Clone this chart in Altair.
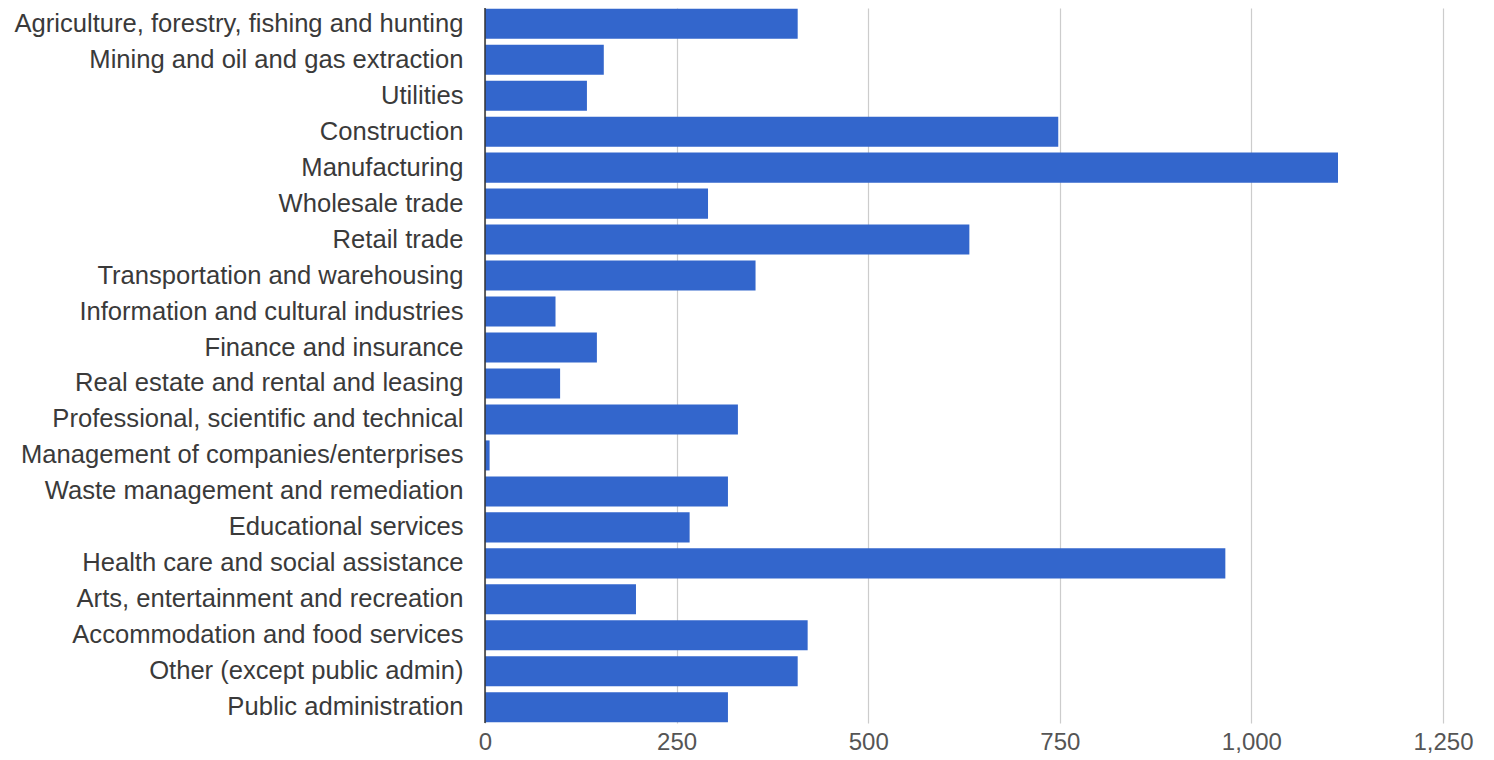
import altair as alt
import pandas as pd

categories = [
    "Agriculture, forestry, fishing and hunting",
    "Mining and oil and gas extraction",
    "Utilities",
    "Construction",
    "Manufacturing",
    "Wholesale trade",
    "Retail trade",
    "Transportation and warehousing",
    "Information and cultural industries",
    "Finance and insurance",
    "Real estate and rental and leasing",
    "Professional, scientific and technical",
    "Management of companies/enterprises",
    "Waste management and remediation",
    "Educational services",
    "Health care and social assistance",
    "Arts, entertainment and recreation",
    "Accommodation and food services",
    "Other (except public admin)",
    "Public administration",
]
values = [408, 155, 133, 748, 1113, 291, 632, 353, 92, 146, 98, 330, 6, 317, 267, 966, 197, 421, 408, 317]
x_ticks = [0, 250, 500, 750, 1000, 1250]

df = pd.DataFrame({"industry": categories, "value": values})

FONT = "Liberation Sans"

bars = alt.Chart(df).mark_bar(color="#3366CC").encode(
    y=alt.Y(
        "industry:N",
        sort=categories,
        scale=alt.Scale(paddingInner=0.165, paddingOuter=0.02),
        axis=alt.Axis(
            title=None,
            domain=False,
            ticks=False,
            labelPadding=22,
            labelFontSize=25.6,
            labelFont=FONT,
            labelColor="#3a3a3a",
            labelLimit=600,
            grid=False,
        ),
    ),
    x=alt.X(
        "value:Q",
        scale=alt.Scale(domain=[0, 1250], nice=False),
        axis=alt.Axis(
            title=None,
            values=x_ticks,
            format=",d",
            domain=False,
            ticks=False,
            labelFlush=False,
            labelPadding=7,
            labelFontSize=24,
            labelFont=FONT,
            labelColor="#555555",
            grid=True,
            gridColor="#cccccc",
            gridWidth=1.2,
        ),
    ),
)

zero = alt.Chart(pd.DataFrame({"z": [0]})).mark_rule(color="#333333", strokeWidth=1.5).encode(
    x=alt.X("z:Q", scale=alt.Scale(domain=[0, 1250], nice=False))
)

chart = (
    alt.layer(bars, zero)
    .properties(
        width=958,
        height=715,
        padding={"left": 477, "top": 0, "right": 40, "bottom": 40},
        autosize=alt.AutoSizeParams(type="none"),
    )
    .configure_view(stroke=None)
)

chart.save("out.html", embed_options={"renderer": "svg", "actions": False})
